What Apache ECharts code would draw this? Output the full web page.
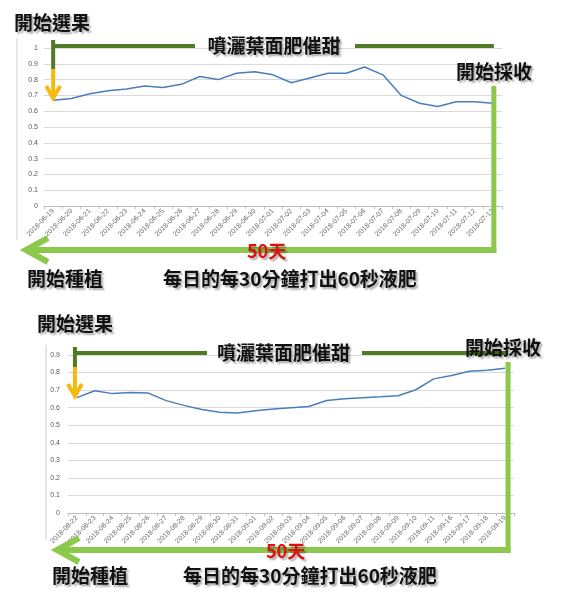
<!DOCTYPE html>
<html>
<head>
<meta charset="utf-8">
<script src="https://cdn.jsdelivr.net/npm/echarts@6/dist/echarts.min.js"></script>
<style>
  html, body { margin: 0; padding: 0; background: #fff; }
  #main { width: 567px; height: 604px; }
</style>
</head>
<body>
<div id="main"></div>
<script>
// first season (June - July)
var datesA = ['2018-06-19','2018-06-20','2018-06-21','2018-06-22','2018-06-23','2018-06-24','2018-06-25',
  '2018-06-26','2018-06-27','2018-06-28','2018-06-29','2018-06-30','2018-07-01','2018-07-02','2018-07-03',
  '2018-07-04','2018-07-05','2018-07-06','2018-07-07','2018-07-08','2018-07-09','2018-07-10','2018-07-11',
  '2018-07-12','2018-07-13'];
var valuesA = [0.67, 0.68, 0.71, 0.73, 0.74, 0.76, 0.75, 0.77, 0.82, 0.80, 0.84, 0.85, 0.83,
  0.78, 0.81, 0.84, 0.84, 0.88, 0.83, 0.70, 0.65, 0.63, 0.66, 0.66, 0.65];
var yMaxA = 1;

// second season (August - September)
var datesB = ['2018-08-22','2018-08-23','2018-08-24','2018-08-25','2018-08-26','2018-08-27','2018-08-28',
  '2018-08-29','2018-08-30','2018-08-31','2018-09-01','2018-09-02','2018-09-03','2018-09-04','2018-09-05',
  '2018-09-06','2018-09-07','2018-09-08','2018-09-09','2018-09-10','2018-09-11','2018-09-16','2018-09-17',
  '2018-09-18','2018-09-19'];
var valuesB = [0.657, 0.696, 0.68, 0.687, 0.683, 0.64, 0.613, 0.589, 0.574, 0.57, 0.583, 0.592, 0.60,
  0.607, 0.641, 0.651, 0.657, 0.662, 0.668, 0.702, 0.764, 0.783, 0.808, 0.813, 0.825];
var yMaxB = 0.9;
var yStep = 0.1;

// annotation texts
var txtPick = '開始選果';
var txtSpray = '噴灑葉面肥催甜';
var txtHarvest = '開始採收';
var txtPlant = '開始種植';
var txtDays = '50天';
var txtNote = '每日的每30分鐘打出60秒液肥';

var dom = document.getElementById('main');
var myChart = echarts.init(dom, null, {renderer: 'canvas'});

var lineBlue = '#4a7ebb';
var darkGreen = '#4f7a26';
var lightGreen = '#8cc84b';
var amber = '#f7b90f';
var fontCJK = '"Noto Sans CJK TC", "Noto Sans CJK SC", sans-serif';

function xAxisFor(idx, data) {
  return {
    type: 'category',
    gridIndex: idx,
    data: data,
    boundaryGap: true,
    axisLine: { lineStyle: { color: '#bfbfbf', width: 1 } },
    axisTick: { show: true, length: 3, lineStyle: { color: '#bfbfbf' } },
    axisLabel: { rotate: 45, fontSize: 7, color: '#6b6b6b', interval: 0, margin: 4, fontFamily: 'Liberation Sans' },
    splitLine: { show: false }
  };
}
function yAxisFor(idx, max, margin) {
  return {
    type: 'value',
    gridIndex: idx,
    min: 0,
    max: max,
    interval: yStep,
    axisLine: { show: false },
    axisTick: { show: false },
    splitLine: { lineStyle: { color: '#d9d9d9', width: 1 } },
    axisLabel: { fontSize: 7, color: '#595959', margin: margin, fontFamily: 'Liberation Sans' }
  };
}
function seriesFor(idx, data) {
  return {
    type: 'line',
    xAxisIndex: idx,
    yAxisIndex: idx,
    data: data,
    symbol: 'none',
    smooth: false,
    lineStyle: { color: lineBlue, width: 1.5 }
  };
}

myChart.setOption({
  backgroundColor: '#fff',
  animation: false,
  grid: [
    { left: 44, right: 65, top: 48, height: 158 },
    { left: 68, right: 53, top: 355, height: 158 }
  ],
  xAxis: [xAxisFor(0, datesA), xAxisFor(1, datesB)],
  yAxis: [yAxisFor(0, yMaxA, 6), yAxisFor(1, yMaxB, 8)],
  series: [seriesFor(0, valuesA), seriesFor(1, valuesB)]
});

// decoration helpers
function seg(x1, y1, x2, y2, color, w) {
  return { type: 'line', silent: true, z: 10,
    shape: { x1: x1, y1: y1, x2: x2, y2: y2 },
    style: { stroke: color, lineWidth: w, lineCap: 'butt' } };
}
function chevron(points, color, w) {
  return { type: 'polyline', silent: true, z: 11,
    shape: { points: points },
    style: { stroke: color, lineWidth: w, fill: null, lineJoin: 'miter', lineCap: 'butt' } };
}
function label(text, x, y, size, color, align) {
  return { type: 'text', silent: true, z: 12,
    style: {
      text: text, x: x, y: y, align: align || 'left', verticalAlign: 'middle',
      font: 'bold ' + size + 'px ' + fontCJK,
      fill: color,
      textShadowColor: 'rgba(0,0,0,0.35)', textShadowBlur: 2,
      textShadowOffsetX: 2, textShadowOffsetY: 2
    } };
}

function overlay(p) {
  var g = [];
  // chart frame left edge
  g.push(seg(p.frameX, p.frameY1, p.frameX, p.frameY2, '#d0d0d0', 1));
  // start of picking: dark green stem + amber arrow
  g.push(seg(p.fx, p.greenY - 6, p.fx, p.stemY, darkGreen, 4));
  g.push(seg(p.fx, p.stemY, p.fx, p.tipY - 3, amber, 4));
  g.push(chevron([[p.fx - 7, p.tipY - 12], [p.fx, p.tipY], [p.fx + 7, p.tipY - 12]], amber, 4));
  // spraying period bar
  g.push(seg(p.fx, p.greenY, p.sprayL - 10, p.greenY, darkGreen, 4));
  g.push(seg(p.sprayR + 12, p.greenY, p.lx, p.greenY, darkGreen, 4));
  g.push(label(txtSpray, (p.sprayL + p.sprayR) / 2, p.greenY, 19, '#111', 'center'));
  // harvest
  g.push(label(txtHarvest, p.harvestX, p.harvestY, 19, '#111'));
  g.push(seg(p.lx, p.harvestY + 14, p.lx, p.baseY + 3, lightGreen, 5));
  g.push(seg(p.lx + 2.5, p.baseY, p.tipX + 3, p.baseY, lightGreen, 6));
  g.push(chevron([[p.tipX + 22, p.baseY - 12], [p.tipX, p.baseY], [p.tipX + 22, p.baseY + 12]], lightGreen, 6));
  // texts
  g.push(label(txtPick, p.pickX, p.pickY, 19, '#111'));
  g.push(label(txtDays, p.daysX, p.baseY + 1, 18, '#e01010'));
  g.push(label(txtPlant, p.plantX, p.bottomY, 19, '#111'));
  g.push(label(txtNote, p.noteX, p.bottomY, 19, '#111'));
  return g;
}

var fxA = myChart.convertToPixel({ xAxisIndex: 0 }, datesA[0]);
var lxA = myChart.convertToPixel({ xAxisIndex: 0 }, datesA[datesA.length - 1]) + 1;
var fxB = myChart.convertToPixel({ xAxisIndex: 1 }, datesB[0]) - 2;
var lxB = myChart.convertToPixel({ xAxisIndex: 1 }, datesB[datesB.length - 1]) + 3;

var graphics = overlay({
  frameX: 17, frameY1: 38, frameY2: 240,
  fx: fxA, lx: lxA, greenY: 46, stemY: 69, tipY: 98,
  sprayL: 205, sprayR: 343,
  harvestX: 456, harvestY: 72,
  baseY: 250, tipX: 26, daysX: 247,
  pickX: 14, pickY: 23,
  plantX: 27, noteX: 163, bottomY: 279
}).concat(overlay({
  frameX: 46, frameY1: 345, frameY2: 540,
  fx: fxB, lx: lxB, greenY: 353, stemY: 367, tipY: 396,
  sprayL: 217, sprayR: 350,
  harvestX: 465, harvestY: 348,
  baseY: 550, tipX: 57, daysX: 266,
  pickX: 37, pickY: 324,
  plantX: 52, noteX: 183, bottomY: 576
}));

myChart.setOption({ graphic: graphics });
</script>
</body>
</html>
